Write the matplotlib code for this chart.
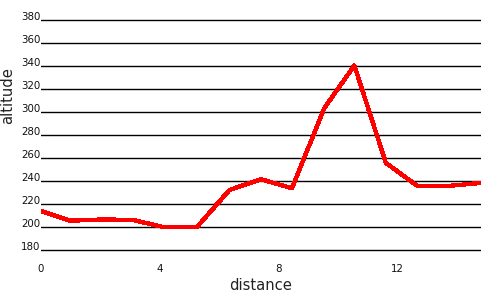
import matplotlib
matplotlib.use('Agg')
import matplotlib.pyplot as plt

# distance / altitude
distance = [0, 0.98, 2.09, 3.1, 4.1, 5.25, 6.34, 7.40, 8.44, 9.53, 10.54, 11.6, 12.66, 13.7, 14.8]
altitude = [214.2, 205.7, 206.8, 206.3, 200.3, 200.3, 232.4, 241.7, 233.9, 303.5, 340.5, 255.9, 235.9, 235.9, 238.5]

yticks = [180, 200, 220, 240, 260, 280, 300, 320, 340, 360, 380]
xticks = [0, 4, 8, 12]

fig = plt.figure(figsize=(5, 3), dpi=100)
# axes area: x 41..481 px, y 178 -> 252.6 px, 382 -> 17.7 px
ax = fig.add_axes([41 / 500, 47.4 / 300, 440 / 500, 234.9 / 300])
ax.set_xlim(0, 14.8)
ax.set_ylim(178, 382)

for v in yticks:
    ax.axhline(v, color='black', lw=1.0, zorder=1)

ax.plot(distance, altitude, color='red', lw=2.4, zorder=2, antialiased=False)

for s in ax.spines.values():
    s.set_visible(False)

ax.set_yticks(yticks)
ax.set_xticks(xticks)
ax.tick_params(axis='both', length=0, labelsize=7.4, colors='#111111')
ax.tick_params(axis='y', pad=0.5)
ax.tick_params(axis='x', pad=8)
for lab in ax.get_yticklabels():
    lab.set_verticalalignment('baseline')

ax.set_xlabel('distance', fontsize=10.6, color='#222222', labelpad=3)
fig.text(8 / 500, 1 - 96 / 300, 'altitude', rotation=90, fontsize=10.6,
         color='#222222', ha='center', va='center')

fig.savefig('out.png', dpi=100)
